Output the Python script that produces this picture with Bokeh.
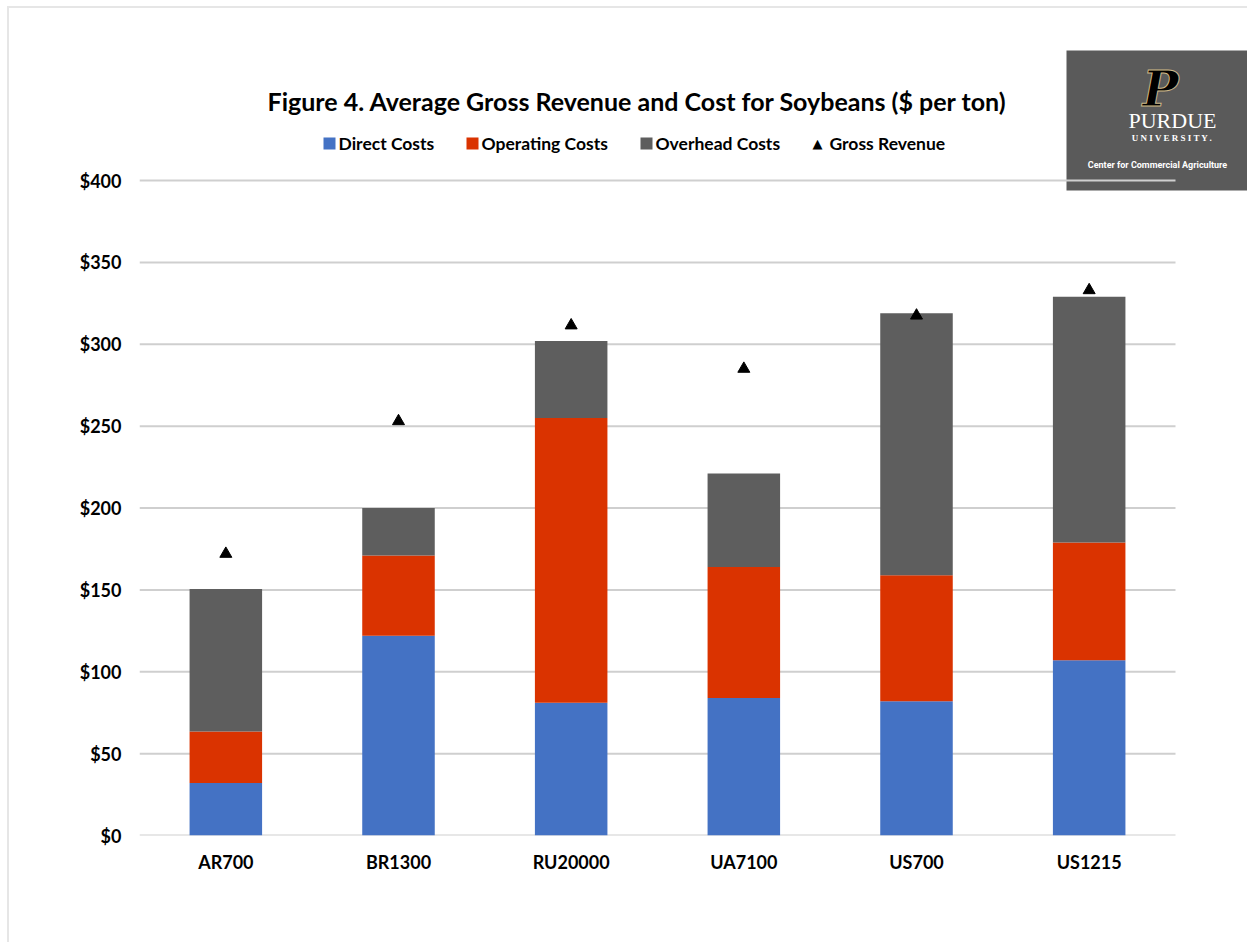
from bokeh.plotting import figure
from bokeh.models import (Label, BoxAnnotation, FixedTicker, NumeralTickFormatter,
                          ColumnDataSource, Range1d)
from bokeh.embed import file_html
from bokeh.resources import INLINE

categories = ["AR700", "BR1300", "RU20000", "UA7100", "US700", "US1215"]
direct_costs = [32, 122, 81, 84, 82, 107]
operating_costs = [31.5, 49, 174, 80, 77, 72]
overhead_costs = [87, 29, 47, 57, 160, 150]
gross_revenue = [172, 253, 311.5, 285, 317.5, 333]
series_names = ["Direct Costs", "Operating Costs", "Overhead Costs"]
y_ticks = [0, 50, 100, 150, 200, 250, 300, 350, 400]

colors = ["#4472C4", "#DA3300", "#5E5E5E"]

# page geometry (pixels)
OX, OY = 9, 8                # canvas origin on page (after CSS margin + border)
W, H = 1247 - OX, 942 - OY   # canvas size
FL, FR, FB, GR = 139, 1247, 835, 1175   # frame left/right/bottom, grid right end
UNIT_X = (GR - FL) / len(categories)
UNIT_Y = (FB - 180) / 400.0

def sx(px):
    return (px - FL) / UNIT_X

def sy(py):
    return (FB - py) / UNIT_Y

xpos = [i + 0.5 for i in range(len(categories))]
src = ColumnDataSource(dict(x=xpos, d=direct_costs, o=operating_costs,
                            h=overhead_costs, rev=gross_revenue))

p = figure(x_range=Range1d(sx(FL), sx(FR)), y_range=Range1d(0, sy(OY)),
           frame_width=FR - FL, frame_height=FB - OY,
           min_border_left=FL - OX, min_border_right=0, min_border_top=0,
           min_border_bottom=H - (FB - OY),
           output_backend="svg", toolbar_location=None, background_fill_color="white",
           border_fill_color="white")
p.outline_line_color = None
p.styles = {"margin-left": "7px", "margin-top": "6px",
            "border-left": "2px solid #E6E6E6", "border-top": "2px solid #E6E6E6"}

# logo box (under the gridlines, as in the original)
p.add_layout(BoxAnnotation(left=sx(1066), right=sx(1247), top=sy(50), bottom=sy(190),
                           fill_color="#5A5A5A", fill_alpha=1, line_color=None, level="image"))

p.xgrid.grid_line_color = None
p.ygrid.grid_line_color = None
p.segment(x0=0, x1=len(categories), y0=y_ticks, y1=y_ticks, line_color="#CFCFCF",
          line_width=2, level="underlay")

p.vbar_stack(["d", "o", "h"], x="x", width=0.42, color=colors, source=src, line_color=None)
p.scatter(x="x", y="rev", source=src, marker="triangle", size=12, color="black")

p.yaxis.ticker = FixedTicker(ticks=y_ticks)
p.yaxis.formatter = NumeralTickFormatter(format="$0")
p.yaxis.axis_line_color = None
p.yaxis.major_tick_line_color = None
p.yaxis.minor_tick_line_color = None
p.yaxis.major_tick_out = 0
p.yaxis.major_tick_in = 0
p.yaxis.major_label_standoff = 18
p.yaxis.major_label_text_font = "Lato"
p.yaxis.major_label_text_font_style = "bold"
p.yaxis.major_label_text_font_size = "18px"
p.yaxis.major_label_text_color = "black"

p.xaxis.ticker = FixedTicker(ticks=xpos)
p.xaxis.major_label_overrides = {x: c for x, c in zip(xpos, categories)}
p.xaxis.axis_line_color = None
p.xaxis.major_tick_line_color = None
p.xaxis.minor_tick_line_color = None
p.xaxis.major_tick_out = 0
p.xaxis.major_tick_in = 0
p.xaxis.major_label_standoff = 15
p.xaxis.major_label_text_font = "Lato"
p.xaxis.major_label_text_font_style = "bold"
p.xaxis.major_label_text_font_size = "18px"
p.xaxis.major_label_text_color = "black"


def lab(txt, px, py, size, color="black", font="Lato", style="bold", align="left", **kw):
    p.add_layout(Label(x=sx(px), y=sy(py), text=txt, text_font=font, text_font_style=style,
                       text_font_size=size, text_color=color, text_align=align,
                       text_baseline="middle", **kw))

lab("Figure 4. Average Gross Revenue and Cost for Soybeans ($ per ton)", 637, 100, "25px", align="center")

# legend
sq = [323, 466, 640]
tx = [338, 481, 655]
for i, name in enumerate(series_names):
    p.add_layout(BoxAnnotation(left=sx(sq[i]), right=sx(sq[i] + 12), top=sy(137), bottom=sy(149),
                               fill_color=colors[i], fill_alpha=1, line_color=None))
    lab(name, tx[i], 143, "17.5px")
lab("\u25B2", 817, 143, "13px", font="DejaVu Sans", style="normal", align="center")
lab("Gross Revenue", 829, 143, "17.5px")

# logo texts
lab("P", 1160, 88, "48px", font="DejaVu Serif", style="bold italic", align="center",
    text_outline_color="#CEB888")
lab("PURDUE", 1172, 120, "22px", color="white", font="Liberation Serif", style="normal", align="center")
lab("U N I V E R S I T Y .", 1172, 137, "9px", color="white", font="Liberation Serif", style="bold", align="center")
lab("Center for Commercial Agriculture", 1157, 164, "9px", color="white", font="Roboto", style="bold", align="center")

open("out.html", "w").write(file_html(p, INLINE))
